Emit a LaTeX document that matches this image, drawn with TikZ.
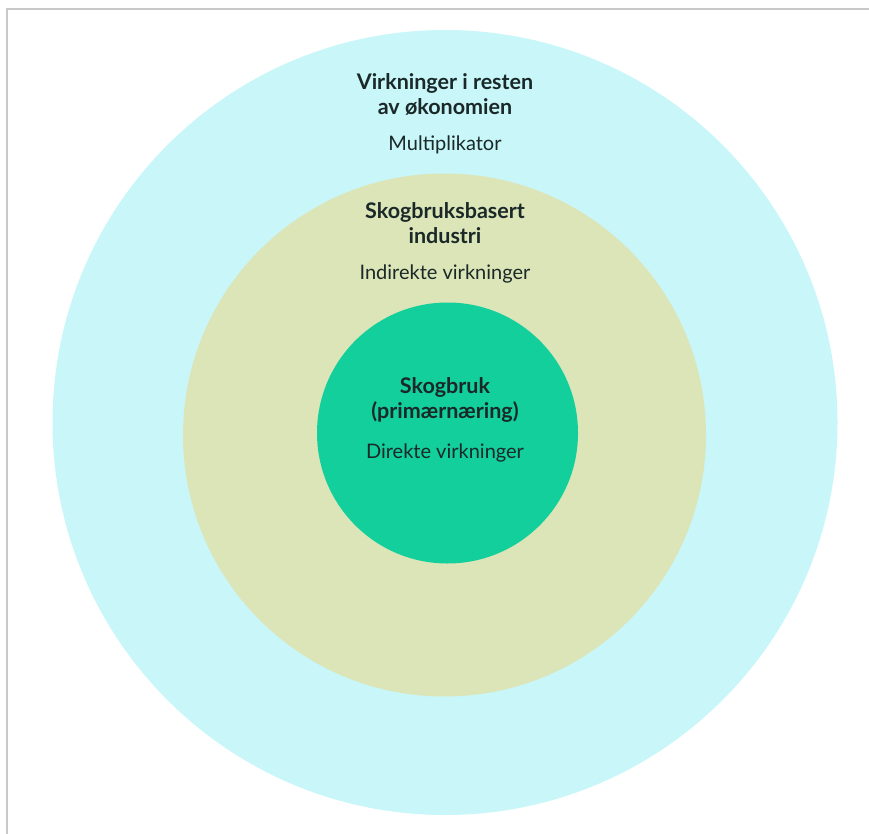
\documentclass[tikz,border=0pt]{standalone}
\usepackage{fontspec}
\setmainfont{Lato}
\definecolor{ringouter}{RGB}{200,246,249}
\definecolor{ringmiddle}{RGB}{220,229,184}
\definecolor{ringinner}{RGB}{18,207,156}
\definecolor{inktext}{RGB}{26,40,40}
\definecolor{frameline}{RGB}{200,200,200}
\begin{document}
\begin{tikzpicture}[x=1pt,y=-1pt,
		ring/.style={circle,inner sep=0pt,minimum size=#1},
		title/.style={align=center,text=inktext,font=\fontsize{21.5}{25}\selectfont\bfseries},
		sub/.style={text=inktext,font=\fontsize{20}{25}\selectfont}]
		\useasboundingbox (0,0) rectangle (869,834);
		\draw[frameline,line width=2pt] (7,834) -- (7,9) -- (869,9);
		\node [ring=785pt,fill=ringouter] (outer) at (445,422.5) {};
		\node [ring=523pt,fill=ringmiddle] (middle) at (444.5,435) {};
		\node [ring=261pt,fill=ringinner] (inner) at (447.5,433) {};
		\node [title] (outertitle) at (445,94.5) {Virkninger i resten\\av økonomien};
		\node [sub] (outersub) at (445,145) {Multiplikator};
		\node [title] (middletitle) at (445,223) {Skogbruksbasert\\industri};
		\node [sub] (middlesub) at (445,274) {Indirekte virkninger};
		\node [title] (innertitle) at (445,399.5) {Skogbruk\\(primærnæring)};
		\node [sub] (innersub) at (445,453) {Direkte virkninger};
	\end{tikzpicture}
\end{document}
